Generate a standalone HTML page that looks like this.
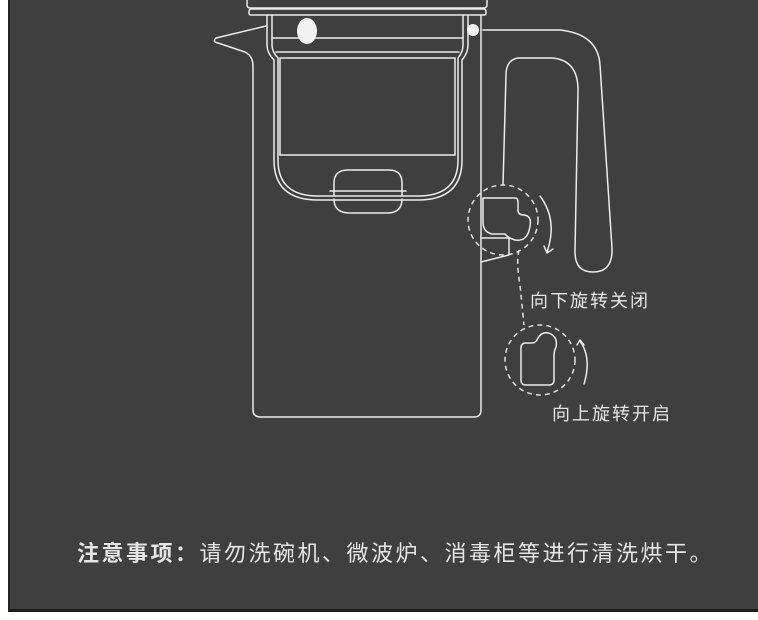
<!DOCTYPE html>
<html><head><meta charset="utf-8"><style>
html,body{margin:0;padding:0;background:#fff;width:758px;height:620px;overflow:hidden}
.bg{position:absolute;left:8px;top:0;width:750px;height:612px;background:#3f3f3f;border-left:2px solid #2a2222;border-bottom:3px solid #1c1c18;box-sizing:border-box}
svg{position:absolute;left:0;top:0}
.t{font-family:"Liberation Sans","Noto Sans CJK SC",sans-serif;fill:#e6e6e6}
</style></head><body>
<div class="bg"></div>
<svg width="758" height="620" viewBox="0 0 758 620">
<g fill="none" stroke="#ececec" stroke-width="1.5" stroke-linejoin="round" stroke-linecap="round">
<path d="M247 0 V5 Q247 8 251 8 H483 Q487 8 487 5 V0"/>
<path d="M251 9 H484 Q486 9 486 12 V13 Q486 15 484 15 H251 Q249 15 249 13 V12 Q249 9 251 9Z"/>
<path d="M272 15 V45 Q272 52 278 58 V160 Q278 196 318 196 H418 Q458 196 458 160 V58 Q463 52 463 45 V15"/>
<path d="M267 15 V45 Q267 53 274 60 V160 Q274 200 318 200 H418 Q462 200 462 160 V60 Q468 53 468 45 V15"/>
<line x1="272" y1="38" x2="463" y2="38"/>
<line x1="276" y1="52" x2="459" y2="52"/>
<line x1="280" y1="58" x2="455" y2="58"/>
<line x1="280" y1="58" x2="280" y2="155"/><line x1="455" y1="58" x2="455" y2="155"/>
<line x1="280" y1="155" x2="455" y2="155"/>
<path d="M334 196 V183 Q334 170 348 170 H389 Q402 170 402 183 V196"/>
<path d="M334 199 Q334 213 350 213 H387 Q402 213 402 199"/>
<line x1="330" y1="191" x2="406" y2="191"/>
<path d="M266 26 L216 38 Q212 42 218 43 L245 52 Q253 56 253 66 V410 Q253 417 261 417 H474 Q481 417 481 410 V30"/>
<line x1="481" y1="15" x2="481" y2="30"/>
<path d="M483 30 H560 Q598 34 600 65 L612 248 Q613 272 593 272 Q575 272 575 252 L578 90 Q578 60 552 58 H518 Q506 60 506 75 L503 185"/>
<path d="M481 238 H509 V255 L481 262"/>
<path d="M483 198 H515 Q518 198 518 202 V210 Q518 215 524 215 Q532 216 530 226 Q528 242 515 240 Q508 238 505 234 H492 Q483 232 483 222 Z"/>
<path d="M540 196 Q558 220 547 252"/>
<path d="M544 246 L547 253 L553 249"/>
<path d="M521 348 Q521 343 526 343 H532 Q536 343 538 338 Q543 330 551 334 Q558 338 556 347 Q554 351 554 356 V380 Q554 385 549 385 H526 Q521 385 521 380 Z"/>
<path d="M580 341 Q592 358 584 384"/>
<path d="M577 345 L580 340 L584 345"/>
</g>
<g fill="#f2f2f2">
<ellipse cx="307" cy="31" rx="10" ry="13"/>
<circle cx="473" cy="30" r="6"/>
</g>
<g fill="none" stroke="#e0e0e0" stroke-width="1.5" stroke-dasharray="5,4">
<circle cx="503" cy="220" r="35"/>
<circle cx="540" cy="360" r="35"/>
<path d="M519 250 Q516 262 520 285 L524 325"/>
</g>
<text class="t" x="530" y="307" font-size="18" letter-spacing="2">向下旋转关闭</text>
<text class="t" x="552" y="420" font-size="18" letter-spacing="2">向上旋转开启</text>
<text class="t" x="77" y="561" font-size="22" letter-spacing="2.5"><tspan font-weight="bold">注意事项：</tspan>请勿洗碗机、微波炉、消毒柜等进行清洗烘干。</text>
</svg>
</body></html>
